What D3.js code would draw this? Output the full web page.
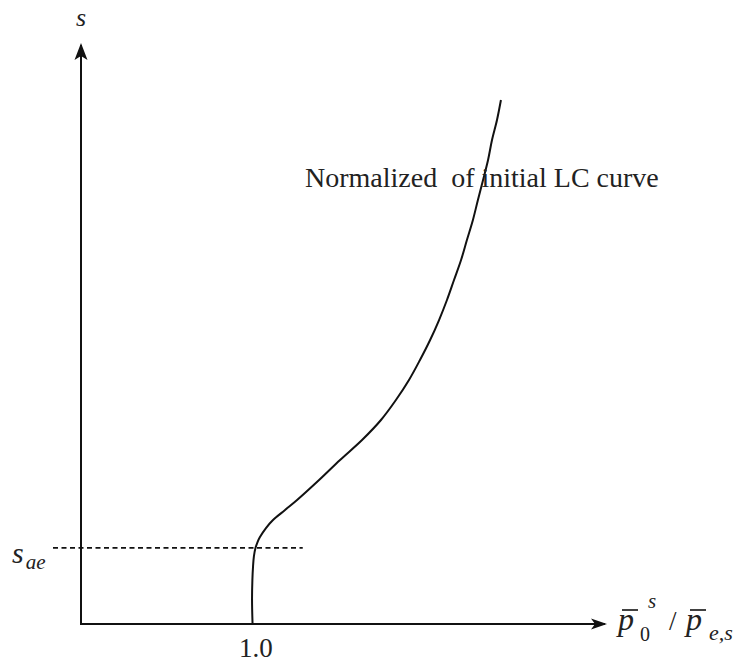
<!DOCTYPE html>
<html>
<head>
<meta charset="utf-8">
<script src="https://cdn.jsdelivr.net/npm/d3@7"></script>
<style>
  html, body { margin: 0; padding: 0; background: #fff; }
</style>
</head>
<body>
<svg id="chart" width="742" height="662"></svg>
<script>
// ---- data ----
const curveRatio = [0.998, 0.995, 0.997, 1.001, 1.006, 1.015, 1.027, 1.041, 1.076, 1.117, 1.187, 1.257, 1.385, 1.507, 1.635, 1.745, 1.832, 1.908, 1.972, 2.031, 2.083, 2.129, 2.170, 2.211, 2.245, 2.280, 2.309, 2.339, 2.368, 2.391, 2.420, 2.443];
const curveS     = [0.000, 0.413, 0.757, 0.998, 1.170, 1.308, 1.411, 1.497, 1.652, 1.790, 1.962, 2.134, 2.478, 2.823, 3.167, 3.511, 3.855, 4.200, 4.544, 4.888, 5.232, 5.577, 5.921, 6.265, 6.609, 6.954, 7.298, 7.642, 7.986, 8.330, 8.675, 9.019];
const xTicks = [1.0];
const xTickLabels = ["1.0"];
const sAE = 1.31;
const sAELabel = ["s", "ae"];
const curveLabel = "Normalized  of initial LC curve";
const yAxisLabel = "s";

const FONT = "'Times New Roman', 'Liberation Serif', 'DejaVu Serif', 'Noto Serif', 'Nimbus Roman', FreeSerif, serif";

// ---- scales ----
const svg = d3.select("#chart");
const x = d3.scaleLinear().domain([0, 3.06]).range([81, 607]);
const y = d3.scaleLinear().domain([0, 10]).range([624, 43]);

const ink = "#111";
const txt = "#222";

// axes
svg.append("line")
  .attr("x1", x(0)).attr("y1", y(0) + 1).attr("x2", x(0)).attr("y2", y(10) + 2)
  .attr("stroke", ink).attr("stroke-width", 2);
svg.append("path")
  .attr("d", `M${x(0)},${y(10)} L${x(0) - 6.5},${y(10) + 17} L${x(0)},${y(10) + 13} L${x(0) + 6.5},${y(10) + 17} Z`)
  .attr("fill", ink);

svg.append("line")
  .attr("x1", x(0) - 1).attr("y1", y(0)).attr("x2", x(3.06) - 2).attr("y2", y(0))
  .attr("stroke", ink).attr("stroke-width", 2);
svg.append("path")
  .attr("d", `M${x(3.06)},${y(0)} L${x(3.06) - 16},${y(0) - 5.5} L${x(3.06) - 12},${y(0)} L${x(3.06) - 16},${y(0) + 5.5} Z`)
  .attr("fill", ink);

// tick labels
svg.selectAll(".xt").data(xTicks).enter().append("text")
  .attr("class", "xt")
  .attr("x", d => x(d) + 3).attr("y", y(0) + 33)
  .attr("text-anchor", "middle").attr("font-size", 27)
  .attr("font-family", FONT).attr("fill", txt)
  .text((d, i) => xTickLabels[i]);

// s_ae dashed line
svg.append("line")
  .attr("x1", 53).attr("x2", x(1.29)).attr("y1", y(sAE)).attr("y2", y(sAE))
  .attr("stroke", ink).attr("stroke-width", 1.6).attr("stroke-dasharray", "5,3.5");

const sae = svg.append("text").attr("x", 12).attr("y", y(sAE) + 15)
  .attr("font-style", "italic").attr("font-family", FONT).attr("fill", txt);
sae.append("tspan").attr("font-size", 30).text(sAELabel[0]);
sae.append("tspan").attr("font-size", 21).attr("dy", 6).attr("dx", 2).text(sAELabel[1]);

// y axis label
svg.append("text").attr("x", x(0)).attr("y", 26).attr("text-anchor", "middle")
  .attr("font-style", "italic").attr("font-size", 26)
  .attr("font-family", FONT).attr("fill", txt).text(yAxisLabel);

// curve
const pts = curveRatio.map((r, i) => [r, curveS[i]]);
svg.append("path")
  .datum(pts)
  .attr("fill", "none").attr("stroke", ink).attr("stroke-width", 2)
  .attr("d", d3.line().x(d => x(d[0])).y(d => y(d[1])).curve(d3.curveCatmullRom.alpha(0.5)));

// curve annotation
svg.append("text").attr("x", 305).attr("y", 187).attr("font-size", 28)
  .attr("font-family", FONT).attr("fill", txt)
  .style("white-space", "pre").text(curveLabel);

// x axis label: p̄0^s / p̄e,s
const lab = svg.append("g").attr("font-family", FONT).attr("fill", txt);
lab.append("text").attr("x", 618).attr("y", 630).attr("font-style", "italic").attr("font-size", 32).text("p");
lab.append("line").attr("x1", 622).attr("x2", 638).attr("y1", 610).attr("y2", 610).attr("stroke", ink).attr("stroke-width", 1.6);
lab.append("text").attr("x", 640).attr("y", 641).attr("font-size", 20).text("0");
lab.append("text").attr("x", 648).attr("y", 608).attr("font-style", "italic").attr("font-size", 21).text("s");
lab.append("text").attr("x", 669).attr("y", 630).attr("font-size", 27).text("/");
lab.append("text").attr("x", 686).attr("y", 630).attr("font-style", "italic").attr("font-size", 32).text("p");
lab.append("line").attr("x1", 690).attr("x2", 706).attr("y1", 610).attr("y2", 610).attr("stroke", ink).attr("stroke-width", 1.6);
lab.append("text").attr("x", 709).attr("y", 640).attr("font-style", "italic").attr("font-size", 22).text("e,s");
</script>
</body>
</html>
